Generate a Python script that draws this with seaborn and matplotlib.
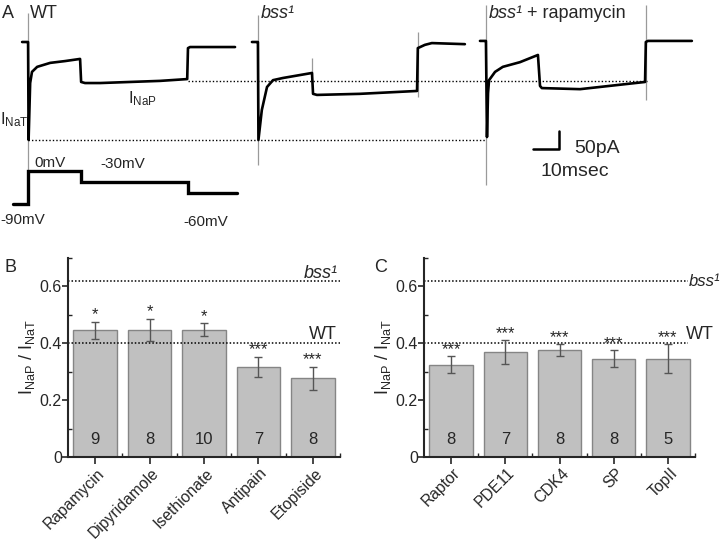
import numpy as np
import pandas as pd
import matplotlib
matplotlib.use("Agg")
import matplotlib.pyplot as plt
import matplotlib.transforms as mtrans
import seaborn as sns
from matplotlib.ticker import MultipleLocator

# --- Panel A: current traces (ms from pulse onset, pA from holding level) ---
wt_t = [-2.3, -0.4, 0.0, 0.2, 0.8, 1.5, 3.5, 8.5, 14.2, 20.0, 20.4, 21.9, 27.7, 39.2, 50.8, 61.2, 61.5, 62.3, 79.6]
wt_i = [0, 0, 0, -272, -114, -83, -69, -58, -53, -47, -111, -114, -114, -111, -108, -103, -17, -14, -14]

bss_t = [-2.3, -0.4, 0.0, 0.2, 1.5, 3.5, 5.8, 9.6, 20.8, 21.2, 22.7, 39.2, 61.2, 61.5, 64.2, 66.9, 79.6]
bss_i = [0, 0, 0, -272, -189, -125, -106, -100, -86, -144, -147, -144, -136, -17, -8, -3, -6]

rapa_t = [-2.3, -0.4, 0.0, 0.4, 0.8, 1.2, 3.5, 6.5, 13.1, 20.0, 20.8, 21.5, 36.2, 61.2, 61.5, 62.3, 79.2]
rapa_i = [3, 3, 3, -264, -142, -106, -83, -69, -56, -36, -122, -128, -131, -111, 0, 3, 3]

trace_onset = [10.8, 99.2, 186.9]          # ms, where each trace sits in the row

# capacitive transients (time, top pA, bottom pA), relative to each onset
art_wt = [(0.0, 80, -356)]
art_bss = [(0.0, 75, -342), (20.8, -44, -92), (61.5, 28, -153)]
art_rapa = [(0.0, 103, -397), (61.5, 103, -161)]

inap_ref = -107   # pA, WT persistent level
inat_ref = -272   # pA, transient peak

# voltage protocol
prot_t = [-5.8, 0.0, 0.0, 20.5, 20.5, 61.5, 61.5, 80.4]
prot_v = [-90, -90, 0, 0, -30, -30, -60, -60]

# --- Panels B and C ---
drugs = ["Rapamycin", "Dipyridamole", "Isethionate", "Antipain", "Etopiside"]
drug_ratio = [0.445, 0.447, 0.447, 0.318, 0.277]
drug_sem = [0.030, 0.040, 0.023, 0.035, 0.041]
drug_n = [9, 8, 10, 7, 8]
drug_sig = ["*", "*", "*", "***", "***"]

rnai = ["Raptor", "PDE11", "CDK4", "SP", "TopII"]
rnai_ratio = [0.324, 0.368, 0.375, 0.346, 0.346]
rnai_sem = [0.030, 0.042, 0.021, 0.029, 0.051]
rnai_n = [8, 7, 8, 8, 5]
rnai_sig = ["***", "***", "***", "***", "***"]

bss_level = 0.62
wt_level = 0.40

sns.set_style("ticks")
plt.rcParams["font.family"] = ["Liberation Sans", "DejaVu Sans"]
plt.rcParams["mathtext.fontset"] = "custom"
plt.rcParams["mathtext.rm"] = "Liberation Sans"
plt.rcParams["mathtext.it"] = "Liberation Sans:italic"

W, H = 723, 542
fig = plt.figure(figsize=(W / 100, H / 100), dpi=100)


def px(x, y):
    return x / W, 1 - y / H


# ---------------- Panel A ----------------
PX_PER_MS = 2.6
PX_PER_PA = 0.36
TOP_PX = 232
BASE_PX = 42
axA = fig.add_axes([0, 1 - TOP_PX / H, 1, TOP_PX / H])
axA.set_xlim(0, W / PX_PER_MS)
axA.set_ylim((BASE_PX - TOP_PX) / PX_PER_PA, BASE_PX / PX_PER_PA)
axA.axis("off")

traces = [(wt_t, wt_i, art_wt), (bss_t, bss_i, art_bss), (rapa_t, rapa_i, art_rapa)]
for onset, (t, i, arts) in zip(trace_onset, traces):
    for ta, top, bot in arts:
        axA.vlines(onset + ta, bot, top, color="#9a9a9a", lw=0.9, zorder=1)
    sns.lineplot(x=np.array(t) + onset, y=i, ax=axA, color="black", lw=1.9,
                 sort=False, estimator=None, zorder=2)

axA.hlines(inap_ref, 72.3, 248.8, color="black", lw=1.0, linestyles=(0, (1, 1.5)))
axA.hlines(inat_ref, trace_onset[0], 186.5, color="black", lw=1.0, linestyles=(0, (1, 1.5)))

# scale bar 10 ms / 50 pA
sb_t, sb_i = 205.0, -297.0
axA.plot([sb_t, sb_t + 10, sb_t + 10], [sb_i, sb_i, sb_i + 50], color="black", lw=1.8)

# voltage protocol on its own mV scale
axV = fig.add_axes(axA.get_position())
axV.set_xlim(axA.get_xlim())
mv_px = 33 / 90
axV.set_ylim((171 - TOP_PX) / mv_px, 171 / mv_px)
axV.axis("off")
axV.plot(np.array(prot_t) + trace_onset[0], prot_v, color="black", lw=2.4, solid_joinstyle="miter")

fs_a = 13
fig.text(*px(2, 13), "A", fontsize=fs_a, va="center")
fig.text(*px(30, 13), "WT", fontsize=fs_a, va="center")
fig.text(*px(261, 13), "bss¹", fontsize=fs_a, va="center", style="italic")
fig.text(*px(489, 13), "bss¹", fontsize=fs_a, va="center", style="italic")
fig.text(*px(527, 13), "+ rapamycin", fontsize=fs_a, va="center")
fig.text(*px(0, 120), r"$\mathrm{I}_{\mathrm{NaT}}$", fontsize=12, va="center")
fig.text(*px(128, 99), r"$\mathrm{I}_{\mathrm{NaP}}$", fontsize=12, va="center")
fig.text(*px(574, 148), "50pA", fontsize=14, va="center")
fig.text(*px(541, 171), "10msec", fontsize=14, va="center")
fig.text(*px(34, 163), "0mV", fontsize=11, va="center")
fig.text(*px(100, 164), "-30mV", fontsize=11, va="center")
fig.text(*px(0, 220), "-90mV", fontsize=11, va="center")
fig.text(*px(183, 222), "-60mV", fontsize=11, va="center")


# ---------------- Panels B, C ----------------
def bar_panel(rect, labels, vals, errs, ns, sig, ref_mode):
    ax = fig.add_axes(rect)
    df = pd.DataFrame({"cond": labels, "ratio": vals})
    sns.barplot(data=df, x="cond", y="ratio", ax=ax, color="#c0c0c0",
                edgecolor="#858585", linewidth=1.0, width=0.8, saturation=1)
    xs = np.arange(len(labels))
    ax.errorbar(xs, vals, yerr=errs, fmt="none", ecolor="#555555", elinewidth=1.0,
                capsize=3, capthick=1.0, zorder=3)
    for x, v, e, s, n in zip(xs, vals, errs, sig, ns):
        ax.text(x, v + e - 0.002, s, ha="center", va="bottom", fontsize=12)
        ax.text(x, 0.06, str(n), ha="center", va="center", fontsize=12)
    ax.set_xlim(-0.5, len(labels) - 0.5)
    ax.set_ylim(0, 0.7)
    ls = (0, (1, 1.3))
    if ref_mode == "B":
        ax.axhline(bss_level, color="black", lw=1.1, ls=ls)
        ax.axhline(wt_level, color="black", lw=1.1, ls=ls)
        ax.text(4.45, 0.645, "bss¹", ha="right", va="center", fontsize=13, style="italic")
        ax.text(4.45, 0.43, "WT", ha="right", va="center", fontsize=13)
    else:
        ax.hlines([bss_level, wt_level], -0.5, 4.37, color="black", lw=1.1, linestyles=ls)
        ax.text(4.39, 0.618, "bss¹", ha="left", va="center", style="italic",
                fontsize=12, clip_on=False)
        ax.text(4.33, 0.43, "WT", ha="left", va="center", fontsize=13, clip_on=False)
    sns.despine(ax=ax)
    for sp in ["left", "bottom"]:
        ax.spines[sp].set_linewidth(1.5)
    ax.yaxis.set_minor_locator(MultipleLocator(0.1))
    ax.set_yticks([0, 0.2, 0.4, 0.6])
    ax.set_yticklabels(["0", "0.2", "0.4", "0.6"], fontsize=11.5)
    ax.set_xticks(xs + 0.5, minor=True)
    ax.tick_params(axis="y", which="major", direction="out", length=4, width=1.2, pad=0.5)
    ax.tick_params(axis="y", which="minor", direction="in", length=3, width=1.0)
    ax.tick_params(axis="x", which="major", direction="out", length=5, width=1.2, pad=2)
    ax.tick_params(axis="x", which="minor", direction="in", length=3, width=1.0)
    ax.set_xticks(xs)
    ax.set_xticklabels(labels, rotation=45, ha="right", va="center",
                       rotation_mode="anchor", fontsize=11.3)
    shift = mtrans.ScaledTranslation(7 / 100, -4 / 100, fig.dpi_scale_trans)
    for lab in ax.get_xticklabels():
        lab.set_transform(lab.get_transform() + shift)
    ax.set_xlabel("")
    ax.set_ylabel(r"$\mathrm{I}_{\mathrm{NaP}}$ / $\mathrm{I}_{\mathrm{NaT}}$", fontsize=13, labelpad=2)
    return ax


axB = bar_panel([68 / W, 85 / H, 272 / W, 199 / H], drugs, drug_ratio, drug_sem,
                drug_n, drug_sig, "B")
axC = bar_panel([424 / W, 85 / H, 271 / W, 199 / H], rnai, rnai_ratio, rnai_sem,
                rnai_n, rnai_sig, "C")
fig.text(*px(4, 268), "B", fontsize=13, va="center")
fig.text(*px(374, 268), "C", fontsize=13, va="center")

fig.savefig("out.png", dpi=100)
